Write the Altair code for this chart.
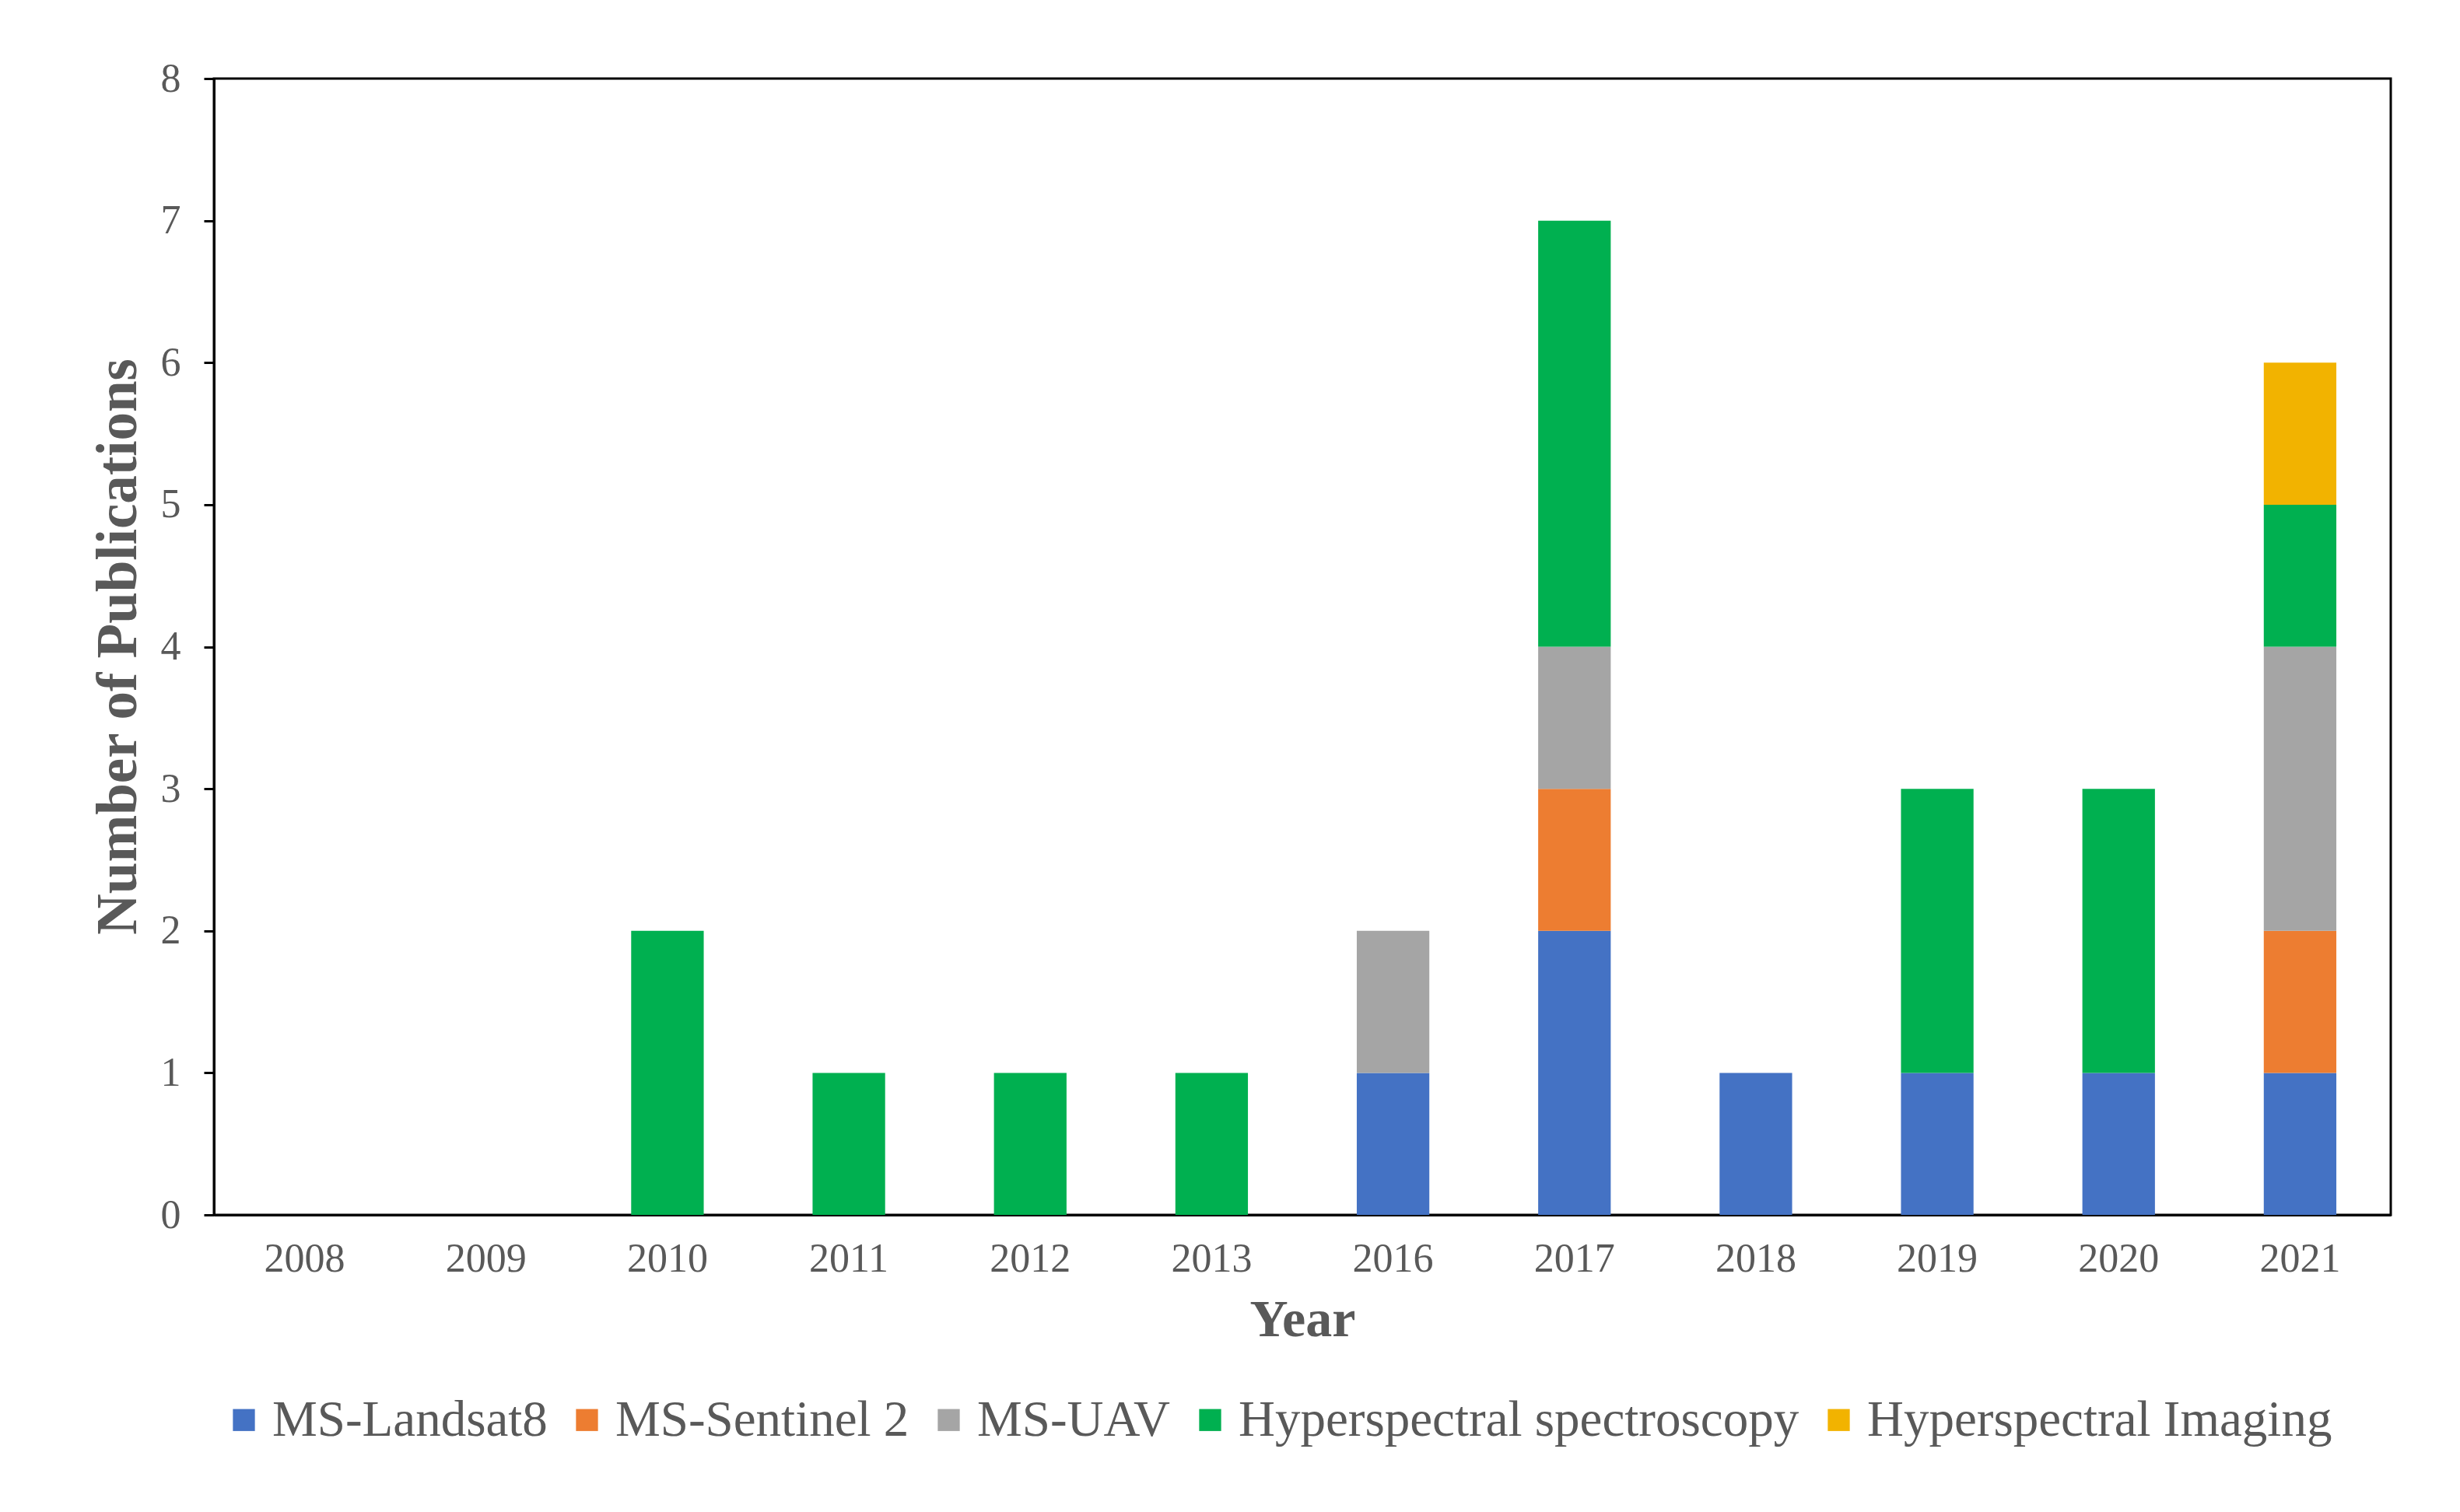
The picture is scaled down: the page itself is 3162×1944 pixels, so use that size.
import altair as alt
import pandas as pd

years = ["2008", "2009", "2010", "2011", "2012", "2013", "2016", "2017", "2018", "2019", "2020", "2021"]
series_names = ["MS-Landsat8", "MS-Sentinel 2", "MS-UAV", "Hyperspectral spectroscopy", "Hyperspectral Imaging"]
ms_landsat8 = [0, 0, 0, 0, 0, 0, 1, 2, 1, 1, 1, 1]
ms_sentinel2 = [0, 0, 0, 0, 0, 0, 0, 1, 0, 0, 0, 1]
ms_uav = [0, 0, 0, 0, 0, 0, 1, 1, 0, 0, 0, 2]
hyper_spectroscopy = [0, 0, 2, 1, 1, 1, 0, 3, 0, 2, 2, 1]
hyper_imaging = [0, 0, 0, 0, 0, 0, 0, 0, 0, 0, 0, 1]
colors = ["#4472C4", "#ED7D31", "#A5A5A5", "#00B050", "#F2B300"]

series_values = [ms_landsat8, ms_sentinel2, ms_uav, hyper_spectroscopy, hyper_imaging]
rows = []
for si, (name, vals) in enumerate(zip(series_names, series_values)):
    for y, v in zip(years, vals):
        rows.append({"Year": y, "Series": name, "Count": v, "order": si})
df = pd.DataFrame(rows)

FONT = "Liberation Serif"
TEXT = "#595959"

chart = alt.Chart(df).mark_bar().encode(
    x=alt.X(
        "Year:N",
        sort=years,
        scale=alt.Scale(paddingInner=0.6, paddingOuter=0.3),
        axis=alt.Axis(
            title="Year",
            labelAngle=0,
            ticks=False,
            tickSize=0,
            labelBaseline="alphabetic",
            labelPadding=72,
            labelFont=FONT,
            labelFontSize=52,
            labelColor=TEXT,
            titleFont=FONT,
            titleFontSize=68,
            titleFontWeight="bold",
            titleColor=TEXT,
            titleBaseline="alphabetic",
            titleY=155,
            domainColor="black",
            domainWidth=3,
        ),
    ),
    y=alt.Y(
        "Count:Q",
        stack="zero",
        scale=alt.Scale(domain=[0, 8], nice=False),
        axis=alt.Axis(
            title="Number of Publications",
            values=[0, 1, 2, 3, 4, 5, 6, 7, 8],
            grid=False,
            tickSize=13,
            tickWidth=3,
            tickColor="black",
            labelPadding=30,
            labelFont=FONT,
            labelFontSize=52,
            labelColor=TEXT,
            titleFont=FONT,
            titleFontSize=73,
            titleFontWeight="bold",
            titleColor=TEXT,
            titleBaseline="alphabetic",
            titleX=-101,
            titleY=730,
            domainColor="black",
            domainWidth=3,
        ),
    ),
    color=alt.Color(
        "Series:N",
        scale=alt.Scale(domain=series_names, range=colors),
        legend=alt.Legend(
            title=None,
            orient="none",
            direction="horizontal",
            columns=5,
            legendX=6,
            legendY=1692,
            symbolType="square",
            symbolSize=800,
            symbolStrokeWidth=0,
            labelFont=FONT,
            labelFontSize=65,
            labelColor=TEXT,
            labelLimit=2000,
            labelOffset=4,
            columnPadding=18,
        ),
    ),
    order=alt.Order("order:Q", sort="ascending"),
).properties(
    width=2798,
    height=1461,
    autosize=alt.AutoSizeParams(type="none"),
    padding={"left": 267, "top": 93, "right": 81, "bottom": 370},
    background="white",
).configure_view(
    stroke="black",
    strokeWidth=3,
)

chart.save("out.html", embed_options={"renderer": "svg", "actions": False})
